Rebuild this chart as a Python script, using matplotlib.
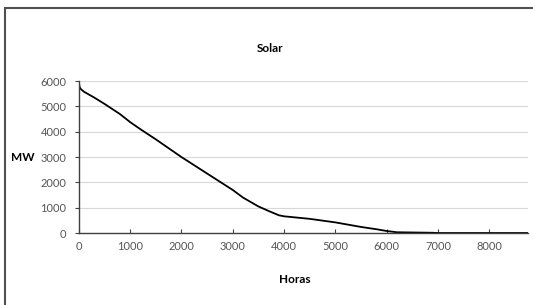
import numpy as np
import matplotlib
matplotlib.use("Agg")
import matplotlib.pyplot as plt
from matplotlib.patches import Rectangle

plt.rcParams['font.family'] = ['Lato', 'DejaVu Sans']

# curva de duración
horas = [0, 10, 30, 100, 300, 500, 800, 1000, 1200, 1500, 2000, 2500, 3000, 3200,
         3500, 3700, 3900, 4000, 4500, 5000, 5500, 5800, 6000, 6200, 6900, 7000, 8760]
mw = [6000, 5800, 5700, 5580, 5350, 5100, 4700, 4380, 4100, 3700, 3000, 2350, 1700, 1400,
      1050, 870, 700, 660, 560, 420, 240, 150, 80, 30, 10, 0, 0]
xticks = [0, 1000, 2000, 3000, 4000, 5000, 6000, 7000, 8000]
yticks = [0, 1000, 2000, 3000, 4000, 5000, 6000]

fig = plt.figure(figsize=(5.33, 3.05), dpi=100)
ax = fig.add_axes([0.148, 0.236, 0.843, 0.498])

ax.plot(horas, mw, color='black', lw=1.3)
ax.set_xlim(0, 8760)
ax.set_ylim(0, 6000)
ax.set_xticks(xticks)
ax.set_yticks(yticks)
ax.yaxis.grid(True, color='#d8d8d8', lw=0.8)
ax.set_axisbelow(True)
for s in ['top', 'right']:
    ax.spines[s].set_visible(False)
for s in ['left', 'bottom']:
    ax.spines[s].set_color('#404040')
    ax.spines[s].set_linewidth(1.0)
ax.tick_params(labelsize=8, colors='#404040', labelcolor='#555555', length=3, width=0.8, pad=6)
ax.tick_params(axis='x', direction='in', length=3)

fig.text(0.507, 0.84, 'Solar', ha='center', va='center', fontsize=8.5, fontweight='bold')
fig.text(0.553, 0.082, 'Horas', ha='center', va='center', fontsize=8.5, fontweight='bold')
fig.text(0.042, 0.482, 'MW', ha='center', va='center', fontsize=8.5, fontweight='bold')

fig.patches.append(Rectangle((5 / 533, -0.05), 1.05, 0.974 + 0.05, transform=fig.transFigure,
                             fill=False, edgecolor='#505050', lw=1.5))

fig.savefig('out.png', dpi=100)
